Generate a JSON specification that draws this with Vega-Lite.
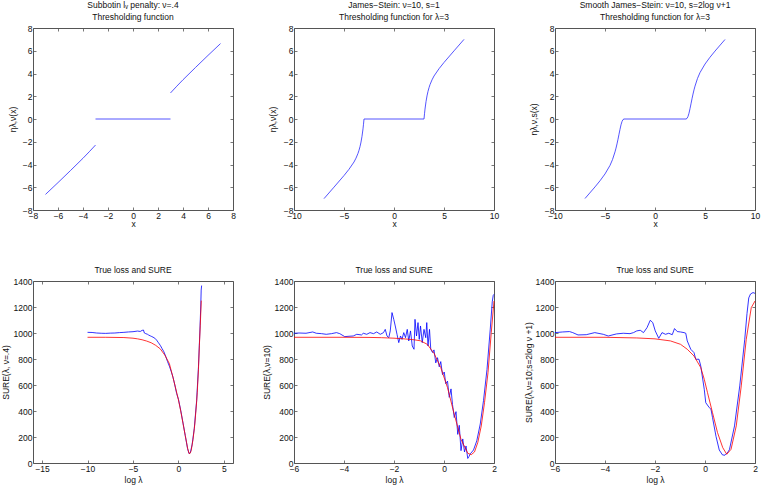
{
  "$schema": "https://vega.github.io/schema/vega-lite/v6.json",
  "padding": {"left": 0, "top": 0, "right": 2, "bottom": 2},
  "columns": 3,
  "spacing": {"row": 71, "column": 61},
  "bounds": "flush",
  "datasets": {
    "top": [
      {"p":1,"s":"a","x":-7,"y":-6.63},{"p":1,"s":"a","x":-6,"y":-5.59},{"p":1,"s":"a","x":-5,"y":-4.53},{"p":1,"s":"a","x":-4,"y":-3.45},{"p":1,"s":"a","x":-3.5,"y":-2.88},{"p":1,"s":"a","x":-3,"y":-2.29},
      {"p":1,"s":"b","x":-3,"y":0},{"p":1,"s":"b","x":3,"y":0},
      {"p":1,"s":"c","x":3,"y":2.29},{"p":1,"s":"c","x":3.5,"y":2.88},{"p":1,"s":"c","x":4,"y":3.45},{"p":1,"s":"c","x":5,"y":4.53},{"p":1,"s":"c","x":6,"y":5.59},{"p":1,"s":"c","x":7,"y":6.63},
      {"p":2,"s":"a","x":-7,"y":-7.0},{"p":2,"s":"a","x":-6,"y":-5.99},{"p":2,"s":"a","x":-5,"y":-4.97},{"p":2,"s":"a","x":-4.5,"y":-4.42},{"p":2,"s":"a","x":-4,"y":-3.78},{"p":2,"s":"a","x":-3.8,"y":-3.44},{"p":2,"s":"a","x":-3.6,"y":-3.02},{"p":2,"s":"a","x":-3.5,"y":-2.75},{"p":2,"s":"a","x":-3.4,"y":-2.43},{"p":2,"s":"a","x":-3.3,"y":-2.03},{"p":2,"s":"a","x":-3.2,"y":-1.52},{"p":2,"s":"a","x":-3.1,"y":-0.87},{"p":2,"s":"a","x":-3.05,"y":-0.46},{"p":2,"s":"a","x":-3,"y":0},
      {"p":2,"s":"a","x":3,"y":0},{"p":2,"s":"a","x":3.05,"y":0.46},{"p":2,"s":"a","x":3.1,"y":0.87},{"p":2,"s":"a","x":3.2,"y":1.52},{"p":2,"s":"a","x":3.3,"y":2.03},{"p":2,"s":"a","x":3.4,"y":2.43},{"p":2,"s":"a","x":3.5,"y":2.75},{"p":2,"s":"a","x":3.6,"y":3.02},{"p":2,"s":"a","x":3.8,"y":3.44},{"p":2,"s":"a","x":4,"y":3.78},{"p":2,"s":"a","x":4.5,"y":4.42},{"p":2,"s":"a","x":5,"y":4.97},{"p":2,"s":"a","x":6,"y":5.99},{"p":2,"s":"a","x":7,"y":7.0},
      {"p":3,"s":"a","x":-7,"y":-6.99},{"p":3,"s":"a","x":-6,"y":-5.97},{"p":3,"s":"a","x":-5.5,"y":-5.43},{"p":3,"s":"a","x":-5,"y":-4.83},{"p":3,"s":"a","x":-4.5,"y":-4.08},{"p":3,"s":"a","x":-4.25,"y":-3.57},{"p":3,"s":"a","x":-4,"y":-2.89},{"p":3,"s":"a","x":-3.9,"y":-2.56},{"p":3,"s":"a","x":-3.8,"y":-2.19},{"p":3,"s":"a","x":-3.7,"y":-1.78},{"p":3,"s":"a","x":-3.6,"y":-1.34},{"p":3,"s":"a","x":-3.5,"y":-0.91},{"p":3,"s":"a","x":-3.4,"y":-0.51},{"p":3,"s":"a","x":-3.3,"y":-0.22},{"p":3,"s":"a","x":-3.2,"y":-0.05},{"p":3,"s":"a","x":-3.1,"y":0},{"p":3,"s":"a","x":-3,"y":0},
      {"p":3,"s":"a","x":3,"y":0},{"p":3,"s":"a","x":3.1,"y":0},{"p":3,"s":"a","x":3.2,"y":0.05},{"p":3,"s":"a","x":3.3,"y":0.22},{"p":3,"s":"a","x":3.4,"y":0.51},{"p":3,"s":"a","x":3.5,"y":0.91},{"p":3,"s":"a","x":3.6,"y":1.34},{"p":3,"s":"a","x":3.7,"y":1.78},{"p":3,"s":"a","x":3.8,"y":2.19},{"p":3,"s":"a","x":3.9,"y":2.56},{"p":3,"s":"a","x":4,"y":2.89},{"p":3,"s":"a","x":4.25,"y":3.57},{"p":3,"s":"a","x":4.5,"y":4.08},{"p":3,"s":"a","x":5,"y":4.83},{"p":3,"s":"a","x":5.5,"y":5.43},{"p":3,"s":"a","x":6,"y":5.97},{"p":3,"s":"a","x":7,"y":6.99}
    ],
    "bot": [
      {"p":1,"k":"SURE","x":-10,"y":1005},{"p":1,"k":"SURE","x":-9.5,"y":1004},{"p":1,"k":"SURE","x":-9,"y":1000},{"p":1,"k":"SURE","x":-8.5,"y":998},{"p":1,"k":"SURE","x":-8,"y":997},{"p":1,"k":"SURE","x":-7.5,"y":999},{"p":1,"k":"SURE","x":-7,"y":1000},{"p":1,"k":"SURE","x":-6.5,"y":1003},{"p":1,"k":"SURE","x":-6,"y":1005},{"p":1,"k":"SURE","x":-5.5,"y":1008},{"p":1,"k":"SURE","x":-5,"y":1010},{"p":1,"k":"SURE","x":-4.5,"y":1015},{"p":1,"k":"SURE","x":-4.2,"y":1012},{"p":1,"k":"SURE","x":-4,"y":1020},{"p":1,"k":"SURE","x":-3.85,"y":1023},{"p":1,"k":"SURE","x":-3.75,"y":1000},{"p":1,"k":"SURE","x":-3.6,"y":995},{"p":1,"k":"SURE","x":-3.4,"y":990},{"p":1,"k":"SURE","x":-3.3,"y":985},{"p":1,"k":"SURE","x":-3.1,"y":978},{"p":1,"k":"SURE","x":-3,"y":975},{"p":1,"k":"SURE","x":-2.8,"y":968},{"p":1,"k":"SURE","x":-2.6,"y":960},{"p":1,"k":"SURE","x":-2.4,"y":945},{"p":1,"k":"SURE","x":-2.2,"y":925},{"p":1,"k":"SURE","x":-2,"y":905},{"p":1,"k":"SURE","x":-1.8,"y":880},{"p":1,"k":"SURE","x":-1.6,"y":855},{"p":1,"k":"SURE","x":-1.4,"y":820},{"p":1,"k":"SURE","x":-1.2,"y":780},{"p":1,"k":"SURE","x":-1,"y":745},{"p":1,"k":"SURE","x":-0.8,"y":705},{"p":1,"k":"SURE","x":-0.6,"y":660},{"p":1,"k":"SURE","x":-0.4,"y":600},{"p":1,"k":"SURE","x":-0.2,"y":535},{"p":1,"k":"SURE","x":0,"y":490},{"p":1,"k":"SURE","x":0.25,"y":405},{"p":1,"k":"SURE","x":0.5,"y":308},{"p":1,"k":"SURE","x":0.75,"y":210},{"p":1,"k":"SURE","x":1,"y":112},{"p":1,"k":"SURE","x":1.16,"y":72},{"p":1,"k":"SURE","x":1.3,"y":78},{"p":1,"k":"SURE","x":1.5,"y":140},{"p":1,"k":"SURE","x":1.74,"y":265},{"p":1,"k":"SURE","x":2,"y":480},{"p":1,"k":"SURE","x":2.2,"y":740},{"p":1,"k":"SURE","x":2.35,"y":1000},{"p":1,"k":"SURE","x":2.45,"y":1200},{"p":1,"k":"SURE","x":2.5,"y":1330},{"p":1,"k":"SURE","x":2.55,"y":1365},
      {"p":1,"k":"True","x":-10,"y":967},{"p":1,"k":"True","x":-8,"y":967},{"p":1,"k":"True","x":-6,"y":965},{"p":1,"k":"True","x":-5,"y":960},{"p":1,"k":"True","x":-4.5,"y":955},{"p":1,"k":"True","x":-4,"y":948},{"p":1,"k":"True","x":-3.5,"y":938},{"p":1,"k":"True","x":-3,"y":925},{"p":1,"k":"True","x":-2.5,"y":905},{"p":1,"k":"True","x":-2,"y":878},{"p":1,"k":"True","x":-1.5,"y":830},{"p":1,"k":"True","x":-1,"y":765},{"p":1,"k":"True","x":-0.5,"y":630},{"p":1,"k":"True","x":0,"y":485},{"p":1,"k":"True","x":0.25,"y":400},{"p":1,"k":"True","x":0.5,"y":305},{"p":1,"k":"True","x":0.75,"y":210},{"p":1,"k":"True","x":0.89,"y":159},{"p":1,"k":"True","x":1,"y":115},{"p":1,"k":"True","x":1.16,"y":74},{"p":1,"k":"True","x":1.25,"y":72},{"p":1,"k":"True","x":1.4,"y":95},{"p":1,"k":"True","x":1.6,"y":180},{"p":1,"k":"True","x":1.74,"y":262},{"p":1,"k":"True","x":1.8,"y":300},{"p":1,"k":"True","x":2,"y":470},{"p":1,"k":"True","x":2.07,"y":544},{"p":1,"k":"True","x":2.2,"y":720},{"p":1,"k":"True","x":2.3,"y":902},{"p":1,"k":"True","x":2.4,"y":1060},{"p":1,"k":"True","x":2.51,"y":1249},
      {"p":2,"k":"SURE","x":-6,"y":998},{"p":2,"k":"SURE","x":-5.8,"y":1000},{"p":2,"k":"SURE","x":-5.52,"y":998},{"p":2,"k":"SURE","x":-5.25,"y":1008},{"p":2,"k":"SURE","x":-5.11,"y":998},{"p":2,"k":"SURE","x":-4.9,"y":995},{"p":2,"k":"SURE","x":-4.71,"y":990},{"p":2,"k":"SURE","x":-4.5,"y":995},{"p":2,"k":"SURE","x":-4.3,"y":1003},{"p":2,"k":"SURE","x":-4.17,"y":995},{"p":2,"k":"SURE","x":-3.97,"y":972},{"p":2,"k":"SURE","x":-3.8,"y":975},{"p":2,"k":"SURE","x":-3.63,"y":977},{"p":2,"k":"SURE","x":-3.49,"y":990},{"p":2,"k":"SURE","x":-3.3,"y":985},{"p":2,"k":"SURE","x":-3.23,"y":998},{"p":2,"k":"SURE","x":-3.09,"y":990},{"p":2,"k":"SURE","x":-2.96,"y":1003},{"p":2,"k":"SURE","x":-2.82,"y":995},{"p":2,"k":"SURE","x":-2.69,"y":1008},{"p":2,"k":"SURE","x":-2.55,"y":990},{"p":2,"k":"SURE","x":-2.42,"y":1003},{"p":2,"k":"SURE","x":-2.35,"y":1028},{"p":2,"k":"SURE","x":-2.28,"y":977},{"p":2,"k":"SURE","x":-2.21,"y":964},{"p":2,"k":"SURE","x":-2.15,"y":1016},{"p":2,"k":"SURE","x":-2.08,"y":1157},{"p":2,"k":"SURE","x":-2.01,"y":1105},{"p":2,"k":"SURE","x":-1.95,"y":1054},{"p":2,"k":"SURE","x":-1.88,"y":990},{"p":2,"k":"SURE","x":-1.81,"y":926},{"p":2,"k":"SURE","x":-1.74,"y":977},{"p":2,"k":"SURE","x":-1.68,"y":951},{"p":2,"k":"SURE","x":-1.61,"y":1003},{"p":2,"k":"SURE","x":-1.54,"y":964},{"p":2,"k":"SURE","x":-1.47,"y":1028},{"p":2,"k":"SURE","x":-1.41,"y":939},{"p":2,"k":"SURE","x":-1.34,"y":1016},{"p":2,"k":"SURE","x":-1.27,"y":900},{"p":2,"k":"SURE","x":-1.2,"y":875},{"p":2,"k":"SURE","x":-1.16,"y":1105},{"p":2,"k":"SURE","x":-1.1,"y":977},{"p":2,"k":"SURE","x":-1.04,"y":1080},{"p":2,"k":"SURE","x":-0.99,"y":951},{"p":2,"k":"SURE","x":-0.94,"y":1054},{"p":2,"k":"SURE","x":-0.87,"y":926},{"p":2,"k":"SURE","x":-0.8,"y":1028},{"p":2,"k":"SURE","x":-0.73,"y":964},{"p":2,"k":"SURE","x":-0.69,"y":1080},{"p":2,"k":"SURE","x":-0.64,"y":900},{"p":2,"k":"SURE","x":-0.58,"y":1028},{"p":2,"k":"SURE","x":-0.53,"y":875},{"p":2,"k":"SURE","x":-0.46,"y":850},{"p":2,"k":"SURE","x":-0.4,"y":870},{"p":2,"k":"SURE","x":-0.33,"y":770},{"p":2,"k":"SURE","x":-0.26,"y":810},{"p":2,"k":"SURE","x":-0.19,"y":740},{"p":2,"k":"SURE","x":-0.13,"y":780},{"p":2,"k":"SURE","x":-0.06,"y":680},{"p":2,"k":"SURE","x":0.01,"y":700},{"p":2,"k":"SURE","x":0.07,"y":610},{"p":2,"k":"SURE","x":0.14,"y":630},{"p":2,"k":"SURE","x":0.21,"y":505},{"p":2,"k":"SURE","x":0.28,"y":570},{"p":2,"k":"SURE","x":0.34,"y":450},{"p":2,"k":"SURE","x":0.41,"y":350},{"p":2,"k":"SURE","x":0.48,"y":395},{"p":2,"k":"SURE","x":0.55,"y":220},{"p":2,"k":"SURE","x":0.61,"y":290},{"p":2,"k":"SURE","x":0.68,"y":95},{"p":2,"k":"SURE","x":0.75,"y":185},{"p":2,"k":"SURE","x":0.82,"y":85},{"p":2,"k":"SURE","x":0.88,"y":131},{"p":2,"k":"SURE","x":0.95,"y":35},{"p":2,"k":"SURE","x":1.0,"y":50},{"p":2,"k":"SURE","x":1.05,"y":70},{"p":2,"k":"SURE","x":1.18,"y":100},{"p":2,"k":"SURE","x":1.31,"y":170},{"p":2,"k":"SURE","x":1.45,"y":300},{"p":2,"k":"SURE","x":1.58,"y":480},{"p":2,"k":"SURE","x":1.72,"y":720},{"p":2,"k":"SURE","x":1.85,"y":1030},{"p":2,"k":"SURE","x":1.93,"y":1240},{"p":2,"k":"SURE","x":1.97,"y":1290},{"p":2,"k":"SURE","x":2,"y":1298},
      {"p":2,"k":"True","x":-6,"y":967},{"p":2,"k":"True","x":-4,"y":967},{"p":2,"k":"True","x":-3,"y":966},{"p":2,"k":"True","x":-2.5,"y":964},{"p":2,"k":"True","x":-2,"y":960},{"p":2,"k":"True","x":-1.6,"y":955},{"p":2,"k":"True","x":-1.2,"y":948},{"p":2,"k":"True","x":-0.94,"y":940},{"p":2,"k":"True","x":-0.67,"y":913},{"p":2,"k":"True","x":-0.4,"y":844},{"p":2,"k":"True","x":-0.13,"y":734},{"p":2,"k":"True","x":0.14,"y":580},{"p":2,"k":"True","x":0.41,"y":375},{"p":2,"k":"True","x":0.68,"y":182},{"p":2,"k":"True","x":0.95,"y":75},{"p":2,"k":"True","x":1.09,"y":64},{"p":2,"k":"True","x":1.22,"y":85},{"p":2,"k":"True","x":1.35,"y":157},{"p":2,"k":"True","x":1.49,"y":285},{"p":2,"k":"True","x":1.62,"y":464},{"p":2,"k":"True","x":1.76,"y":695},{"p":2,"k":"True","x":1.89,"y":1003},{"p":2,"k":"True","x":2,"y":1246},
      {"p":3,"k":"SURE","x":-6,"y":1003},{"p":3,"k":"SURE","x":-5.69,"y":1008},{"p":3,"k":"SURE","x":-5.42,"y":1011},{"p":3,"k":"SURE","x":-5.29,"y":1003},{"p":3,"k":"SURE","x":-5.08,"y":985},{"p":3,"k":"SURE","x":-4.75,"y":987},{"p":3,"k":"SURE","x":-4.41,"y":1003},{"p":3,"k":"SURE","x":-4.07,"y":990},{"p":3,"k":"SURE","x":-3.87,"y":977},{"p":3,"k":"SURE","x":-3.54,"y":993},{"p":3,"k":"SURE","x":-3.27,"y":998},{"p":3,"k":"SURE","x":-3,"y":995},{"p":3,"k":"SURE","x":-2.86,"y":1003},{"p":3,"k":"SURE","x":-2.73,"y":1016},{"p":3,"k":"SURE","x":-2.59,"y":1021},{"p":3,"k":"SURE","x":-2.46,"y":1003},{"p":3,"k":"SURE","x":-2.32,"y":1041},{"p":3,"k":"SURE","x":-2.19,"y":1098},{"p":3,"k":"SURE","x":-2.09,"y":1080},{"p":3,"k":"SURE","x":-1.99,"y":1016},{"p":3,"k":"SURE","x":-1.85,"y":959},{"p":3,"k":"SURE","x":-1.72,"y":1003},{"p":3,"k":"SURE","x":-1.58,"y":990},{"p":3,"k":"SURE","x":-1.45,"y":998},{"p":3,"k":"SURE","x":-1.31,"y":987},{"p":3,"k":"SURE","x":-1.22,"y":1034},{"p":3,"k":"SURE","x":-1.11,"y":1011},{"p":3,"k":"SURE","x":-0.98,"y":1008},{"p":3,"k":"SURE","x":-0.84,"y":1003},{"p":3,"k":"SURE","x":-0.77,"y":998},{"p":3,"k":"SURE","x":-0.71,"y":939},{"p":3,"k":"SURE","x":-0.57,"y":875},{"p":3,"k":"SURE","x":-0.44,"y":849},{"p":3,"k":"SURE","x":-0.37,"y":798},{"p":3,"k":"SURE","x":-0.24,"y":798},{"p":3,"k":"SURE","x":-0.17,"y":746},{"p":3,"k":"SURE","x":-0.03,"y":567},{"p":3,"k":"SURE","x":0.03,"y":464},{"p":3,"k":"SURE","x":0.17,"y":426},{"p":3,"k":"SURE","x":0.24,"y":413},{"p":3,"k":"SURE","x":0.3,"y":350},{"p":3,"k":"SURE","x":0.44,"y":205},{"p":3,"k":"SURE","x":0.57,"y":100},{"p":3,"k":"SURE","x":0.7,"y":62},{"p":3,"k":"SURE","x":0.8,"y":60},{"p":3,"k":"SURE","x":0.92,"y":85},{"p":3,"k":"SURE","x":0.98,"y":105},{"p":3,"k":"SURE","x":1.18,"y":285},{"p":3,"k":"SURE","x":1.39,"y":593},{"p":3,"k":"SURE","x":1.59,"y":952},{"p":3,"k":"SURE","x":1.68,"y":1150},{"p":3,"k":"SURE","x":1.75,"y":1270},{"p":3,"k":"SURE","x":1.82,"y":1300},{"p":3,"k":"SURE","x":1.92,"y":1311},{"p":3,"k":"SURE","x":2,"y":1305},
      {"p":3,"k":"True","x":-6,"y":967},{"p":3,"k":"True","x":-4,"y":967},{"p":3,"k":"True","x":-2.73,"y":962},{"p":3,"k":"True","x":-2,"y":955},{"p":3,"k":"True","x":-1.38,"y":939},{"p":3,"k":"True","x":-0.98,"y":913},{"p":3,"k":"True","x":-0.71,"y":875},{"p":3,"k":"True","x":-0.44,"y":823},{"p":3,"k":"True","x":-0.17,"y":734},{"p":3,"k":"True","x":-0.03,"y":644},{"p":3,"k":"True","x":0.1,"y":541},{"p":3,"k":"True","x":0.3,"y":387},{"p":3,"k":"True","x":0.5,"y":234},{"p":3,"k":"True","x":0.71,"y":118},{"p":3,"k":"True","x":0.87,"y":67},{"p":3,"k":"True","x":1.04,"y":105},{"p":3,"k":"True","x":1.25,"y":285},{"p":3,"k":"True","x":1.45,"y":593},{"p":3,"k":"True","x":1.65,"y":952},{"p":3,"k":"True","x":1.85,"y":1195},{"p":3,"k":"True","x":2,"y":1246}
    ]
  },
  "concat": [
    {
      "width": 200, "height": 182,
      "title": {"text": ["Subbotin l\u1d65 penalty:  \u03bd=.4", "Thresholding function"]},
      "data": {"name": "top"},
      "transform": [{"filter": "datum.p == 1"}],
      "resolve": {"axis": {"x": "independent", "y": "independent"}},
      "layer": [
        {"mark": {"type": "line", "color": "#2a2aff", "strokeWidth": 0.8},
         "encoding": {
           "x": {"field": "x", "type": "quantitative", "scale": {"domain": [-8, 8]}, "axis": {"orient": "bottom", "values": [-8,-6,-4,-2,0,2,4,6,8], "format": "d", "title": "x", "titleX": 100, "titleY": 13.5, "titleBaseline": "middle"}},
           "y": {"field": "y", "type": "quantitative", "scale": {"domain": [-8, 8]}, "axis": {"orient": "left", "values": [-8,-6,-4,-2,0,2,4,6,8], "format": "d", "title": "\u03b7\u03bb,\u03bd(x)", "titleX": -21, "titleY": 91, "titleAngle": -90, "titleBaseline": "middle", "titleAlign": "center"}},
           "detail": {"field": "s"}}},
        {"mark": {"type": "line", "opacity": 0},
         "encoding": {
           "x": {"field": "x", "type": "quantitative", "axis": {"orient": "top", "values": [-8,-6,-4,-2,0,2,4,6,8], "labels": false, "title": null}},
           "y": {"field": "y", "type": "quantitative", "axis": {"orient": "right", "values": [-8,-6,-4,-2,0,2,4,6,8], "labels": false, "title": null}},
           "detail": {"field": "s"}}}
      ]
    },
    {
      "width": 200, "height": 182,
      "title": {"text": ["James\u2212Stein: \u03bd=10,  s=1", "Thresholding function for \u03bb=3"]},
      "data": {"name": "top"},
      "transform": [{"filter": "datum.p == 2"}],
      "resolve": {"axis": {"x": "independent", "y": "independent"}},
      "layer": [
        {"mark": {"type": "line", "color": "#2a2aff", "strokeWidth": 0.8},
         "encoding": {
           "x": {"field": "x", "type": "quantitative", "scale": {"domain": [-10, 10]}, "axis": {"orient": "bottom", "values": [-10,-5,0,5,10], "format": "d", "title": "x", "titleX": 100, "titleY": 13.5, "titleBaseline": "middle"}},
           "y": {"field": "y", "type": "quantitative", "scale": {"domain": [-8, 8]}, "axis": {"orient": "left", "values": [-8,-6,-4,-2,0,2,4,6,8], "format": "d", "title": "\u03b7\u03bb,\u03bd(x)", "titleX": -22, "titleY": 91, "titleAngle": -90, "titleBaseline": "middle", "titleAlign": "center"}}}},
        {"mark": {"type": "line", "opacity": 0},
         "encoding": {
           "x": {"field": "x", "type": "quantitative", "axis": {"orient": "top", "values": [-10,-5,0,5,10], "labels": false, "title": null}},
           "y": {"field": "y", "type": "quantitative", "axis": {"orient": "right", "values": [-8,-6,-4,-2,0,2,4,6,8], "labels": false, "title": null}}}}
      ]
    },
    {
      "width": 200, "height": 182,
      "title": {"text": ["Smooth James\u2212Stein: \u03bd=10, s=2log \u03bd+1", "Thresholding function for \u03bb=3"]},
      "data": {"name": "top"},
      "transform": [{"filter": "datum.p == 3"}],
      "resolve": {"axis": {"x": "independent", "y": "independent"}},
      "layer": [
        {"mark": {"type": "line", "color": "#2a2aff", "strokeWidth": 0.8},
         "encoding": {
           "x": {"field": "x", "type": "quantitative", "scale": {"domain": [-10, 10]}, "axis": {"orient": "bottom", "values": [-10,-5,0,5,10], "format": "d", "title": "x", "titleX": 100, "titleY": 13.5, "titleBaseline": "middle"}},
           "y": {"field": "y", "type": "quantitative", "scale": {"domain": [-8, 8]}, "axis": {"orient": "left", "values": [-8,-6,-4,-2,0,2,4,6,8], "format": "d", "title": "\u03b7\u03bb,\u03bd,s(x)", "titleX": -22, "titleY": 91, "titleAngle": -90, "titleBaseline": "middle", "titleAlign": "center"}}}},
        {"mark": {"type": "line", "opacity": 0},
         "encoding": {
           "x": {"field": "x", "type": "quantitative", "axis": {"orient": "top", "values": [-10,-5,0,5,10], "labels": false, "title": null}},
           "y": {"field": "y", "type": "quantitative", "axis": {"orient": "right", "values": [-8,-6,-4,-2,0,2,4,6,8], "labels": false, "title": null}}}}
      ]
    },
    {
      "width": 200, "height": 182,
      "title": "True loss and SURE",
      "data": {"name": "bot"},
      "transform": [{"filter": "datum.p == 1"}],
      "resolve": {"axis": {"x": "independent", "y": "independent"}},
      "layer": [
        {"mark": {"type": "line", "strokeWidth": 0.8},
         "encoding": {
           "x": {"field": "x", "type": "quantitative", "scale": {"domain": [-15, 5]}, "axis": {"orient": "bottom", "values": [-15,-10,-5,0,5], "format": "d", "title": "log \u03bb", "titleX": 100, "titleY": 16, "titleBaseline": "middle"}},
           "y": {"field": "y", "type": "quantitative", "scale": {"domain": [0, 1400]}, "axis": {"orient": "left", "values": [0,200,400,600,800,1000,1200,1400], "format": "d", "title": "SURE(\u03bb, \u03bd=.4)", "titleX": -28, "titleY": 91, "titleAngle": -90, "titleBaseline": "middle", "titleAlign": "center"}},
           "color": {"field": "k", "type": "nominal", "scale": {"domain": ["SURE", "True"], "range": ["#0000ff", "#ff0000"]}, "legend": null}}},
        {"mark": {"type": "line", "opacity": 0},
         "encoding": {
           "x": {"field": "x", "type": "quantitative", "axis": {"orient": "top", "values": [-15,-10,-5,0,5], "labels": false, "title": null}},
           "y": {"field": "y", "type": "quantitative", "axis": {"orient": "right", "values": [0,200,400,600,800,1000,1200,1400], "labels": false, "title": null}},
           "detail": {"field": "k"}}}
      ]
    },
    {
      "width": 200, "height": 182,
      "title": "True loss and SURE",
      "data": {"name": "bot"},
      "transform": [{"filter": "datum.p == 2"}],
      "resolve": {"axis": {"x": "independent", "y": "independent"}},
      "layer": [
        {"mark": {"type": "line", "strokeWidth": 0.8},
         "encoding": {
           "x": {"field": "x", "type": "quantitative", "scale": {"domain": [-6, 2]}, "axis": {"orient": "bottom", "values": [-6,-4,-2,0,2], "format": "d", "title": "log \u03bb", "titleX": 100, "titleY": 16, "titleBaseline": "middle"}},
           "y": {"field": "y", "type": "quantitative", "scale": {"domain": [0, 1400]}, "axis": {"orient": "left", "values": [0,200,400,600,800,1000,1200,1400], "format": "d", "title": "SURE(\u03bb,\u03bd=10)", "titleX": -28, "titleY": 91, "titleAngle": -90, "titleBaseline": "middle", "titleAlign": "center"}},
           "color": {"field": "k", "type": "nominal", "scale": {"domain": ["SURE", "True"], "range": ["#0000ff", "#ff0000"]}, "legend": null}}},
        {"mark": {"type": "line", "opacity": 0},
         "encoding": {
           "x": {"field": "x", "type": "quantitative", "axis": {"orient": "top", "values": [-6,-4,-2,0,2], "labels": false, "title": null}},
           "y": {"field": "y", "type": "quantitative", "axis": {"orient": "right", "values": [0,200,400,600,800,1000,1200,1400], "labels": false, "title": null}},
           "detail": {"field": "k"}}}
      ]
    },
    {
      "width": 200, "height": 182,
      "title": "True loss and SURE",
      "data": {"name": "bot"},
      "transform": [{"filter": "datum.p == 3"}],
      "resolve": {"axis": {"x": "independent", "y": "independent"}},
      "layer": [
        {"mark": {"type": "line", "strokeWidth": 0.8},
         "encoding": {
           "x": {"field": "x", "type": "quantitative", "scale": {"domain": [-6, 2]}, "axis": {"orient": "bottom", "values": [-6,-4,-2,0,2], "format": "d", "title": "log \u03bb", "titleX": 100, "titleY": 16, "titleBaseline": "middle"}},
           "y": {"field": "y", "type": "quantitative", "scale": {"domain": [0, 1400]}, "axis": {"orient": "left", "values": [0,200,400,600,800,1000,1200,1400], "format": "d", "title": "SURE(\u03bb,\u03bd=10;s=2log \u03bd +1)", "titleX": -27, "titleY": 91, "titleAngle": -90, "titleBaseline": "middle", "titleAlign": "center"}},
           "color": {"field": "k", "type": "nominal", "scale": {"domain": ["SURE", "True"], "range": ["#0000ff", "#ff0000"]}, "legend": null}}},
        {"mark": {"type": "line", "opacity": 0},
         "encoding": {
           "x": {"field": "x", "type": "quantitative", "axis": {"orient": "top", "values": [-6,-4,-2,0,2], "labels": false, "title": null}},
           "y": {"field": "y", "type": "quantitative", "axis": {"orient": "right", "values": [0,200,400,600,800,1000,1200,1400], "labels": false, "title": null}},
           "detail": {"field": "k"}}}
      ]
    }
  ],
  "config": {
    "font": "Liberation Sans",
    "background": "white",
    "view": {"stroke": "#555555", "strokeWidth": 1},
    "axis": {"grid": false, "domain": false, "ticks": true, "tickSize": -3, "tickColor": "#555555", "tickWidth": 0.8, "labelPadding": 4, "labelFontSize": 8.5, "labelColor": "#111111", "labelFlush": false, "labelOverlap": false, "titleFontSize": 8.5, "titleFontWeight": "normal", "titleColor": "#111111"},
    "title": {"fontSize": 8.5, "fontWeight": "normal", "offset": 3, "lineHeight": 12, "color": "#111111"}
  }
}
